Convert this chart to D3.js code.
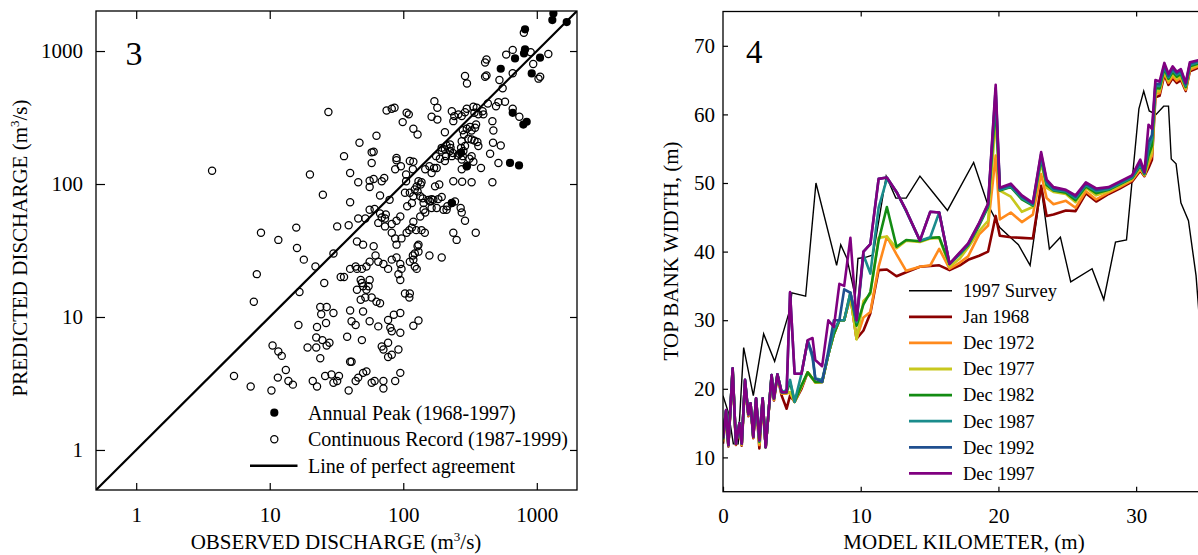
<!DOCTYPE html>
<html><head><meta charset="utf-8">
<script src="https://cdn.jsdelivr.net/npm/d3@7"></script>
<style>
body{margin:0;background:#fff}
svg{display:block}
text{font-family:"Liberation Serif","Times New Roman",serif;fill:#000}
</style>
</head><body>
<svg id="c" width="1198" height="555"></svg>
<script>
// ---------- Panel 3 data: observed vs predicted discharge (m3/s) ----------
const peakObs  = [1331,1307,1675,816,816,802,687,1057,537,916,660,793,840,630,736,271,299,231];
const peakPred = [1919,1710,1651,1455,1028,959,880,891,736,678,343,280,294,144,138,172,136,72];

const contObs = [800,660,590,940,1220,900,420,410,660,1060,1030,290,300,420,410,525,555,171,180,430,495,516,578,660,740,465,473,537,447,516,335,355,393,398,365,341,299,290,274,259,241,231,237,106,110,99,75,82,86,119,128,63,47,58,60,58,36,40,46,56,56,60,72,69,67,79,163,180,205,351,345,325,316,299,279,285,325,341,359,365,307,274,290,271,282,263,235,226,224,211,205,194,209,194,89,89,96,87,105,112,119,118,105,130,135,126,122,137,146,157,170,178,163,176,188,205,224,231,256,279,274,274,299,313,325,335,382,325,276,237,173,163,186,194,178,112,119,128,134,140,142,116,107,103,40,32,39,46,52,56,61,67,69,74,73,65,73,82,89,95,82,87,97,106,111,119,116,125,137,134,146,142,154,159,163,168,183,200,211,214,231,244,269,274,290,237,251,349,130,89,60,50,45,470,465,
 145,157,194,36,34,40,44,45,49,53,56,62,65,71,77,82,89,95,92,95,97,112,119,122,126,128,130,122,118,48,49,50,53,56,55,58,63,67,52,48,45,103,111,112,30,40,41,44,50,56,65,80,77,85,95,82,95,119,130,38,49,69,71,77,82,77,92,40,41,29,33,30,32,39,44,46,50,53,58,61,71,71,87,95,
 3.7,27.5,20,25,8.6,11.6,15.8,16,18,22,8,25.6,30,16.7,7.6,23.9,26.7,24.3,16.4,22.6,26.4,22.3,24.8,26.7,28,19.2,22.3,23.9,10.5,11.6,12.3,13.2,5.4,7.2,10.3,11.5,13.8,14.9,21,22.6,26];
const contPred = [1370,1020,940,800,950,980,865,820,680,640,620,650,570,655,640,605,525,420,374,403,385,413,415,368,320,297,253,195,169,144,381,374,353,334,334,343,368,347,324,334,324,353,297,343,334,292,357,368,374,260,236,231,204,173,175,144,162,121,103,106,95,109,111,105,82,76,320,305,245,280,265,253,269,260,254,236,216,212,207,193,219,210,193,187,177,169,171,187,198,195,182,179,162,187,157,151,136,129,118,149,147,129,105,105,99,96,91,103,129,136,132,132,121,162,155,149,177,162,164,162,153,129,136,155,162,147,132,103,104,105,96,77,99,80,66,86,81,88,81,78,72,72,68,86,73,48,49,55,55,64,65,60,56,59,55,51,48,50,53,57,43,39,39,43,45,52,47,45,45,57,61,64,76,74,66,76,77,64,64,68,72,74,66,61,53,43,38,43,35,35,34,35,37,204,103,
 43,29,28,20,20,23,24,23,23,24,26,29,26,25,23,27,28,25,21,19,23,26,27,24,23,34,31,30,29,19,18,17,16,19,17,14,13,12.7,14,13.5,16,15,14,15,10.7,11.2,9.3,8.7,11,9.3,8.5,8.3,9.5,10.4,10.7,7.8,7.6,8.6,9.4,7.1,6.7,6.0,5.7,6.4,5.2,5.0,5.7,4.6,4.6,3.7,3.6,3.2,3.3,2.8,3.3,3.5,3.8,3.9,3.2,3.3,3.3,2.9,3.3,3.8,
 126,348,118,83,43,38,47,33,27,24,21,18,30,15.4,13,11.9,11.9,10.5,8.7,8.4,9,7.0,6.7,6.1,6.4,5.9,5.9,4.9,6.1,5.5,5.1,4.0,3.6,3.0,2.8,3.5,3.3,3.1,3.3,3.0,3.6];

const logTicks = [1,10,100,1000];
const legendLeft = ["Annual Peak (1968-1997)","Continuous Record (1987-1999)","Line of perfect agreement"];

// ---------- Panel 4 data: top bank width (m) vs model kilometer ----------
const surveyKm = [0,0.4,0.75,1.1,1.5,2.2,2.95,3.75,4.85,5.0,6.0,6.75,8.25,8.55,9.0,9.6,9.8,10.4,10.9,11.85,12.55,13.3,14.3,15.3,16.3,18.2,19.2,20.1,21.45,22.3,23.1,23.7,24.5,25.25,26.8,27.65,28.5,29.3,30.2,30.55,30.95,31.45,32.0,32.35,32.55,32.9,33.25,33.8,34.35,34.6];
const surveyW  = [19.0,16.5,12.0,12.0,26.0,19.0,28.0,24.0,31.5,34.0,33.5,50.0,38.0,41.0,39.0,33.5,39.0,39.2,39.5,51.0,47.8,47.8,51.0,48.5,46.0,53.0,47.0,43.5,41.0,38.0,49.4,40.4,42.1,35.6,37.5,33.0,41.4,41.7,60.8,63.4,60.5,60.0,61.2,61.2,53.5,52.8,47.1,44.5,36.5,30.0];

const modelKm = [0,0.22,0.39,0.7,0.94,1.19,1.36,1.6,1.84,2.0,2.2,2.4,2.64,2.88,3.1,3.53,3.7,3.95,4.26,4.62,4.87,5.2,5.7,6.15,6.5,6.7,7.2,7.65,8.05,8.45,8.8,9.25,9.7,10.2,10.7,11.3,11.9,12.6,13.3,14.3,15.05,15.7,16.45,17.2,17.8,18.6,19.25,19.8,20.1,20.9,21.7,22.5,23.1,23.5,24.0,24.9,25.6,26.35,27.1,28.0,28.8,29.7,30.3,30.6,30.9,31.15,31.4,31.7,32.05,32.35,32.65,32.95,33.25,33.6,33.9,34.5,35.5];

const wJan1968 = [12.0,16.5,11.6,22.5,11.8,14.6,11.7,20.8,16.0,17.6,12.8,18.2,11.3,18.2,11.5,21.6,18.3,21.8,19.0,17.1,19.0,18.1,20.0,22.4,21.5,21.0,21.0,25.0,28.0,30.0,30.0,33.5,27.3,28.5,31.0,37.3,37.4,36.4,37.0,37.8,37.9,38.0,37.3,38.0,38.8,39.4,40.0,45.2,42.3,42.1,42.0,41.9,49.6,45.2,45.4,46.0,45.9,48.5,47.3,48.4,49.2,50.2,51.8,51.0,52.2,53.4,62.5,62.7,65.8,64.3,65.3,64.6,65.0,63.4,66.3,66.8,67.2];
const wDec1972 = [12.3,16.6,11.7,22.7,11.9,14.8,11.8,21.0,16.1,17.7,12.9,18.4,11.8,18.4,11.5,21.8,18.4,21.9,19.3,19.3,19.5,18.1,20.3,22.4,21.5,20.9,21.0,25.0,28.0,30.0,30.0,33.5,27.3,30.4,31.2,37.8,42.2,39.6,37.2,37.8,38.0,40.4,37.5,38.4,39.3,42.5,43.8,54.0,44.7,45.7,44.3,45.4,51.3,47.8,46.9,47.4,46.4,48.8,47.6,48.6,49.4,50.4,52.0,51.1,52.8,54.0,63.0,63.1,66.1,64.6,65.6,64.9,65.3,63.6,66.5,67.0,67.4];
const wDec1977 = [12.5,16.7,11.8,22.8,12.0,14.9,11.9,21.1,16.2,17.8,13.0,18.5,12.1,18.5,11.5,21.9,18.5,22.0,19.4,19.4,19.5,18.1,20.3,22.4,21.5,20.9,21.0,25.0,28.0,30.0,30.0,33.5,27.2,32.8,33.8,42.0,42.2,40.5,41.6,41.4,41.9,42.0,37.8,39.0,40.6,43.0,44.5,59.5,48.9,48.0,45.8,46.5,53.0,49.3,48.7,48.4,47.2,49.3,48.2,48.8,49.6,50.6,52.3,51.2,53.3,54.5,63.4,63.4,66.4,64.9,65.9,65.2,65.6,63.8,66.8,67.2,67.6];
const wDec1982 = [12.6,16.8,11.8,22.9,12.0,15.0,12.0,21.2,16.3,17.9,13.0,18.6,12.3,18.6,11.5,22.0,18.6,22.1,19.5,19.5,21.0,18.1,20.5,22.4,21.5,21.0,21.0,25.0,28.0,30.0,30.0,34.0,29.2,32.3,34.1,41.6,46.5,40.7,41.7,41.5,42.0,42.1,38.2,39.6,40.9,43.8,46.5,61.5,48.9,49.4,47.6,46.7,53.5,49.7,48.9,48.6,47.5,49.5,48.5,49.0,49.8,50.7,52.5,51.3,54.0,55.5,63.8,63.8,66.7,65.2,66.2,65.5,65.9,64.0,67.0,67.4,67.8];
const wDec1987 = [12.7,16.8,11.8,23.0,12.0,15.0,12.0,21.3,16.3,17.9,13.0,18.6,12.4,18.6,11.5,22.0,18.6,22.1,19.5,19.8,21.3,18.1,22.2,27.0,24.5,21.5,21.3,25.0,28.5,30.0,30.0,34.0,29.7,39.5,36.8,46.4,50.6,48.7,45.9,41.6,42.1,45.7,38.2,39.7,41.0,44.0,46.7,63.0,49.0,49.5,47.8,46.8,53.8,50.0,49.0,48.8,47.8,49.7,48.8,49.1,49.9,50.8,52.7,51.4,55.0,56.5,64.2,64.1,67.0,65.4,66.5,65.8,66.1,64.2,67.2,67.6,68.0];
const wDec1992 = [12.8,16.9,11.8,23.0,12.0,15.0,12.0,21.3,16.3,17.9,13.0,18.6,12.5,18.6,11.5,22.0,18.6,22.1,19.5,19.5,34.0,22.2,22.2,27.0,25.0,21.5,21.0,25.5,30.0,30.0,34.5,34.0,30.0,40.0,41.1,50.6,50.8,48.7,46.0,41.6,45.8,45.7,38.2,39.8,41.1,44.1,46.9,63.8,49.2,49.7,48.0,47.0,54.2,50.3,49.2,48.9,48.0,49.9,49.0,49.3,50.1,51.0,53.0,51.5,56.0,57.0,64.5,64.4,67.2,65.6,66.7,66.0,66.4,64.4,67.4,67.8,68.1];
const wDec1997 = [12.8,16.9,11.8,23.0,12.0,15.0,12.0,21.3,16.3,17.9,13.0,18.6,12.5,18.6,11.5,22.0,18.6,22.1,19.5,19.5,34.1,22.2,22.2,27.1,27.4,24.2,23.3,30.0,29.0,35.3,35.0,42.0,30.0,40.0,41.1,50.6,50.8,48.7,46.0,41.6,45.8,45.7,38.2,39.9,41.2,44.2,47.0,64.3,49.3,49.9,48.2,47.1,54.5,50.5,49.4,49.0,48.2,50.1,49.2,49.4,50.2,51.1,53.4,51.6,58.5,57.9,65.0,64.8,67.5,65.9,67.0,66.2,66.6,64.6,67.6,67.9,68.2];

const seriesNames = ["Jan 1968","Dec 1972","Dec 1977","Dec 1982","Dec 1987","Dec 1992","Dec 1997"];
const seriesColors = ["#8b0000","#ff8a1c","#c8c81e","#138c13","#1a8c8c","#1f4f8f","#800080"];
const seriesValues = [wJan1968,wDec1972,wDec1977,wDec1982,wDec1987,wDec1992,wDec1997];
const kmTicks = [0,10,20,30];
const widthTicks = [10,20,30,40,50,60,70];

// ---------- drawing ----------
const svg = d3.select("#c");
const TICKFS = 21;

function styleAxis(g, fs){
  g.select(".domain").remove();
  g.selectAll(".tick line").attr("stroke","#000").attr("stroke-width",1.2);
  g.selectAll(".tick text").attr("font-family",'"Liberation Serif",serif').attr("font-size",fs).attr("fill","#000");
  g.attr("font-family",null).attr("font-size",null);
}

// ===== Panel 3 =====
const L = {x0:96, x1:577, y0:11, y1:490};
const xL = d3.scaleLog().domain([0.5,2000]).range([L.x0,L.x1]);
const yL = d3.scaleLog().domain([0.5,2000]).range([L.y1,L.y0]);

const gL = svg.append("g");
gL.append("g").attr("transform",`translate(0,${L.y1})`)
  .call(d3.axisBottom(xL).tickValues(logTicks).tickFormat(d3.format("d")).tickSize(-7).tickPadding(17))
  .call(g=>styleAxis(g,TICKFS));
gL.append("g").attr("transform",`translate(0,${L.y0})`)
  .call(d3.axisTop(xL).tickValues(logTicks).tickFormat("").tickSize(-8))
  .call(g=>styleAxis(g,TICKFS));
gL.append("g").attr("transform",`translate(${L.x0},0)`)
  .call(d3.axisLeft(yL).tickValues(logTicks).tickFormat(d3.format("d")).tickSize(-9).tickPadding(13))
  .call(g=>styleAxis(g,TICKFS));
gL.append("g").attr("transform",`translate(${L.x1},0)`)
  .call(d3.axisRight(yL).tickValues(logTicks).tickFormat("").tickSize(-7))
  .call(g=>styleAxis(g,TICKFS));

svg.append("clipPath").attr("id","clipL").append("rect")
  .attr("x",L.x0).attr("y",L.y0).attr("width",L.x1-L.x0).attr("height",L.y1-L.y0);

const plotL = gL.append("g").attr("clip-path","url(#clipL)");
plotL.append("line")
  .attr("x1",xL(0.5)).attr("y1",yL(0.5)).attr("x2",xL(2000)).attr("y2",yL(2000))
  .attr("stroke","#000").attr("stroke-width",2.2);

plotL.selectAll("circle.cont").data(d3.range(contObs.length)).join("circle")
  .attr("class","cont")
  .attr("cx",i=>xL(contObs[i])).attr("cy",i=>yL(contPred[i])).attr("r",3.6)
  .attr("fill","none").attr("stroke","#000").attr("stroke-width",1.25);
plotL.selectAll("circle.peak").data(d3.range(peakObs.length)).join("circle")
  .attr("class","peak")
  .attr("cx",i=>xL(peakObs[i])).attr("cy",i=>yL(peakPred[i])).attr("r",4.1)
  .attr("fill","#000");

gL.append("rect").attr("x",L.x0).attr("y",L.y0).attr("width",L.x1-L.x0).attr("height",L.y1-L.y0)
  .attr("fill","none").attr("stroke","#000").attr("stroke-width",1.3);

// legend panel 3
const legL = gL.append("g");
const legLy = [412.7,439.2,465.7];
legL.append("circle").attr("cx",274.3).attr("cy",legLy[0]).attr("r",4.1).attr("fill","#000");
legL.append("circle").attr("cx",274.3).attr("cy",legLy[1]).attr("r",3.6).attr("fill","none").attr("stroke","#000").attr("stroke-width",1.25);
legL.append("line").attr("x1",250).attr("x2",297.5).attr("y1",legLy[2]).attr("y2",legLy[2]).attr("stroke","#000").attr("stroke-width",2.4);
legendLeft.forEach((t,i)=>{
  legL.append("text").attr("x",308).attr("y",legLy[i]+6.8).attr("font-size",20).text(t);
});

// panel number
gL.append("text").attr("x",125.5).attr("y",65).attr("font-size",34).text("3");

// axis titles panel 3
const xtL = gL.append("text").attr("x",336).attr("y",549).attr("text-anchor","middle").attr("font-size",21);
xtL.append("tspan").text("OBSERVED DISCHARGE (m");
xtL.append("tspan").attr("font-size",13).attr("dy",-8).text("3");
xtL.append("tspan").attr("dy",8).text("/s)");

const ytL = gL.append("text").attr("transform","translate(27,248) rotate(-90)").attr("text-anchor","middle").attr("font-size",21);
ytL.append("tspan").text("PREDICTED DISCHARGE (m");
ytL.append("tspan").attr("font-size",13).attr("dy",-8).text("3");
ytL.append("tspan").attr("dy",8).text("/s)");

// ===== Panel 4 =====
const R = {x0:723, x1:1205, y0:11.5, y1:491.7};
const xR = d3.scaleLinear().domain([0,35]).range([R.x0,R.x1]);
const yR = d3.scaleLinear().domain([5,75]).range([R.y1,R.y0]);

const gR = svg.append("g");
gR.append("g").attr("transform",`translate(0,${R.y1})`)
  .call(d3.axisBottom(xR).tickValues(kmTicks).tickFormat(d3.format("d")).tickSize(-5).tickPadding(16))
  .call(g=>styleAxis(g,TICKFS));
gR.append("g").attr("transform",`translate(0,${R.y0})`)
  .call(d3.axisTop(xR).tickValues(kmTicks.slice(1)).tickFormat("").tickSize(-5))
  .call(g=>styleAxis(g,TICKFS));
gR.append("g").attr("transform",`translate(${R.x0},0)`)
  .call(d3.axisLeft(yR).tickValues(widthTicks).tickFormat(d3.format("d")).tickSize(-5).tickPadding(8))
  .call(g=>styleAxis(g,TICKFS));

svg.append("clipPath").attr("id","clipR").append("rect")
  .attr("x",R.x0).attr("y",R.y0).attr("width",R.x1-R.x0).attr("height",R.y1-R.y0);
const plotR = gR.append("g").attr("clip-path","url(#clipR)");

const lineR = d3.line().x(d=>xR(d[0])).y(d=>yR(d[1]));
plotR.append("path").datum(surveyKm.map((k,i)=>[k,surveyW[i]]))
  .attr("d",lineR).attr("fill","none").attr("stroke","#000").attr("stroke-width",1.4).attr("stroke-linejoin","miter");
seriesValues.forEach((vals,s)=>{
  plotR.append("path").datum(modelKm.map((k,i)=>[k,vals[i]]))
    .attr("d",lineR).attr("fill","none").attr("stroke",seriesColors[s]).attr("stroke-width",2.6).attr("stroke-linejoin","round");
});

gR.append("rect").attr("x",R.x0).attr("y",R.y0).attr("width",R.x1-R.x0).attr("height",R.y1-R.y0)
  .attr("fill","none").attr("stroke","#000").attr("stroke-width",1.3);

// legend panel 4
const legR = gR.append("g");
const legNames = ["1997 Survey"].concat(seriesNames);
const legColors = ["#000"].concat(seriesColors);
legNames.forEach((t,i)=>{
  const y = 290.7 + i*26.1;
  legR.append("line").attr("x1",909).attr("x2",952).attr("y1",y).attr("y2",y)
    .attr("stroke",legColors[i]).attr("stroke-width",i===0?1.4:2.8);
  legR.append("text").attr("x",963).attr("y",y+6.3).attr("font-size",18.5).text(t);
});

gR.append("text").attr("x",746).attr("y",62.7).attr("font-size",33).text("4");

gR.append("text").attr("x",964).attr("y",549).attr("text-anchor","middle").attr("font-size",21).text("MODEL KILOMETER, (m)");
gR.append("text").attr("transform","translate(678,251) rotate(-90)").attr("text-anchor","middle").attr("font-size",21).text("TOP BANK WIDTH, (m)");
</script>
</body></html>
